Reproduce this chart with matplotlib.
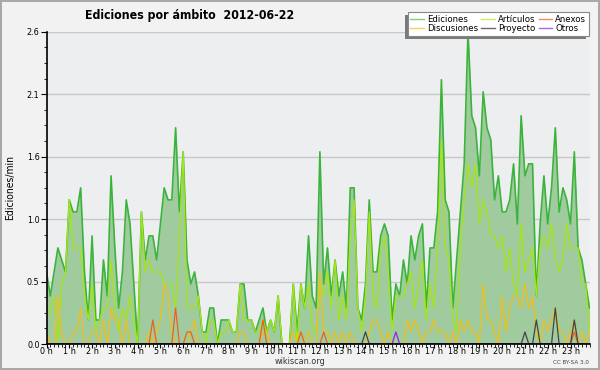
import numpy as np
import matplotlib
matplotlib.use("Agg")
import matplotlib.pyplot as plt
from matplotlib.lines import Line2D
from matplotlib.patches import Rectangle

# edits per minute, one value every 10 minutes (00:00 .. 23:50)
ediciones = [
    0.6, 0.4, 0.6, 0.8, 0.7, 0.6, 1.2, 1.1, 1.1, 1.3, 0.6, 0.2,
    0.9, 0.2, 0.2, 0.7, 0.4, 1.4, 0.8, 0.3, 0.6, 1.2, 1.0, 0.5,
    0.0, 1.1, 0.7, 0.9, 0.9, 0.7, 1.0, 1.3, 1.2, 1.2, 1.8, 1.1,
    1.6, 0.7, 0.5, 0.6, 0.4, 0.1, 0.1, 0.3, 0.3, 0.0, 0.2, 0.2,
    0.2, 0.1, 0.1, 0.5, 0.5, 0.2, 0.2, 0.1, 0.2, 0.3, 0.1, 0.2,
    0.1, 0.4, 0.0, 0.0, 0.0, 0.5, 0.1, 0.5, 0.3, 0.9, 0.4, 0.3,
    1.6, 0.5, 0.8, 0.4, 0.7, 0.4, 0.6, 0.3, 1.3, 1.3, 0.3, 0.2,
    0.5, 1.2, 0.6, 0.6, 0.9, 1.0, 0.9, 0.2, 0.5, 0.4, 0.7, 0.5,
    0.9, 0.7, 0.9, 1.0, 0.3, 0.8, 0.8, 1.1, 2.2, 1.2, 1.1, 0.3,
    0.7, 1.1, 1.5, 2.6, 1.9, 1.8, 1.4, 2.1, 1.8, 1.7, 1.2, 1.4,
    1.1, 1.1, 1.2, 1.5, 1.0, 1.9, 1.4, 1.5, 1.5, 0.4, 1.0, 1.4,
    1.0, 1.3, 1.8, 1.1, 1.3, 1.2, 1.0, 1.6, 0.8, 0.7, 0.5, 0.3,
]
articulos = [
    0.2, 0.3, 0.4, 0.0, 0.5, 0.6, 1.2, 0.8, 0.8, 0.8, 0.4, 0.2,
    0.5, 0.1, 0.2, 0.3, 0.3, 0.7, 0.3, 0.1, 0.3, 0.2, 0.4, 0.2,
    0.0, 1.1, 0.6, 0.7, 0.6, 0.6, 0.6, 0.5, 0.5, 0.5, 0.3, 0.9,
    1.6, 0.3, 0.3, 0.3, 0.4, 0.1, 0.0, 0.2, 0.2, 0.0, 0.1, 0.1,
    0.2, 0.1, 0.1, 0.5, 0.2, 0.2, 0.2, 0.1, 0.1, 0.2, 0.1, 0.2,
    0.1, 0.4, 0.0, 0.0, 0.0, 0.5, 0.0, 0.5, 0.3, 0.5, 0.1, 0.1,
    0.5, 0.4, 0.6, 0.3, 0.7, 0.2, 0.4, 0.2, 0.9, 1.2, 0.3, 0.1,
    0.4, 1.1, 0.4, 0.3, 0.8, 0.9, 0.6, 0.1, 0.4, 0.4, 0.4, 0.5,
    0.6, 0.3, 0.5, 0.7, 0.2, 0.5, 0.3, 0.8, 1.7, 0.8, 0.7, 0.2,
    0.1, 0.8, 1.2, 1.5, 1.3, 1.5, 1.0, 1.2, 1.1, 0.9, 0.9, 0.8,
    0.9, 0.6, 0.8, 0.5, 0.4, 1.0, 0.6, 0.7, 0.8, 0.4, 0.8, 0.9,
    0.8, 1.0, 0.7, 0.6, 0.7, 1.0, 0.8, 0.8, 0.8, 0.5, 0.5, 0.1,
]
discusiones = [
    0.1, 0.0, 0.0, 0.4, 0.1, 0.0, 0.0, 0.1, 0.1, 0.3, 0.0, 0.0,
    0.1, 0.1, 0.0, 0.2, 0.0, 0.3, 0.2, 0.2, 0.0, 0.2, 0.0, 0.0,
    0.0, 0.0, 0.0, 0.1, 0.0, 0.1, 0.2, 0.5, 0.4, 0.1, 0.0, 0.0,
    0.0, 0.0, 0.1, 0.2, 0.0, 0.0, 0.0, 0.0, 0.0, 0.0, 0.0, 0.0,
    0.0, 0.0, 0.0, 0.1, 0.1, 0.0, 0.0, 0.0, 0.0, 0.1, 0.1, 0.0,
    0.0, 0.0, 0.0, 0.0, 0.0, 0.1, 0.0, 0.1, 0.0, 0.1, 0.0, 0.0,
    0.6, 0.1, 0.1, 0.0, 0.1, 0.0, 0.1, 0.0, 0.1, 0.0, 0.0, 0.0,
    0.0, 0.1, 0.2, 0.2, 0.1, 0.0, 0.1, 0.0, 0.0, 0.0, 0.0, 0.2,
    0.1, 0.2, 0.1, 0.0, 0.1, 0.1, 0.2, 0.1, 0.1, 0.1, 0.0, 0.1,
    0.0, 0.2, 0.1, 0.2, 0.1, 0.1, 0.0, 0.5, 0.2, 0.2, 0.1, 0.0,
    0.4, 0.1, 0.3, 0.4, 0.4, 0.3, 0.5, 0.3, 0.4, 0.1, 0.0, 0.2,
    0.1, 0.2, 0.3, 0.1, 0.1, 0.0, 0.1, 0.2, 0.0, 0.1, 0.0, 0.1,
]
anexos = [
    0.0, 0.0, 0.0, 0.0, 0.0, 0.0, 0.0, 0.0, 0.0, 0.0, 0.0, 0.0,
    0.0, 0.0, 0.0, 0.0, 0.0, 0.0, 0.0, 0.0, 0.0, 0.0, 0.0, 0.0,
    0.0, 0.0, 0.0, 0.0, 0.2, 0.0, 0.0, 0.0, 0.0, 0.0, 0.3, 0.0,
    0.0, 0.1, 0.1, 0.0, 0.0, 0.0, 0.0, 0.0, 0.0, 0.0, 0.0, 0.0,
    0.0, 0.0, 0.0, 0.0, 0.0, 0.0, 0.0, 0.0, 0.0, 0.2, 0.0, 0.0,
    0.0, 0.0, 0.0, 0.0, 0.0, 0.0, 0.0, 0.1, 0.0, 0.0, 0.0, 0.0,
    0.0, 0.1, 0.0, 0.0, 0.0, 0.0, 0.0, 0.0, 0.0, 0.0, 0.0, 0.0,
    0.0, 0.0, 0.0, 0.0, 0.0, 0.0, 0.0, 0.0, 0.0, 0.0, 0.0, 0.0,
    0.0, 0.0, 0.0, 0.0, 0.0, 0.0, 0.0, 0.0, 0.0, 0.0, 0.0, 0.0,
    0.0, 0.0, 0.0, 0.0, 0.0, 0.0, 0.0, 0.0, 0.0, 0.0, 0.0, 0.0,
    0.0, 0.0, 0.0, 0.0, 0.0, 0.0, 0.0, 0.0, 0.0, 0.0, 0.0, 0.0,
    0.0, 0.0, 0.0, 0.0, 0.0, 0.0, 0.0, 0.1, 0.0, 0.0, 0.0, 0.0,
]
proyecto = [
    0.0, 0.0, 0.0, 0.0, 0.0, 0.0, 0.0, 0.0, 0.0, 0.0, 0.0, 0.0,
    0.0, 0.0, 0.0, 0.0, 0.0, 0.0, 0.0, 0.0, 0.0, 0.0, 0.0, 0.0,
    0.0, 0.0, 0.0, 0.0, 0.0, 0.0, 0.0, 0.0, 0.0, 0.0, 0.0, 0.0,
    0.0, 0.0, 0.0, 0.0, 0.0, 0.0, 0.0, 0.0, 0.0, 0.0, 0.0, 0.0,
    0.0, 0.0, 0.0, 0.0, 0.0, 0.0, 0.0, 0.0, 0.0, 0.0, 0.0, 0.0,
    0.0, 0.0, 0.0, 0.0, 0.0, 0.0, 0.0, 0.0, 0.0, 0.0, 0.0, 0.0,
    0.0, 0.0, 0.0, 0.0, 0.0, 0.0, 0.0, 0.0, 0.0, 0.0, 0.0, 0.0,
    0.1, 0.0, 0.0, 0.0, 0.0, 0.0, 0.0, 0.0, 0.0, 0.0, 0.0, 0.0,
    0.0, 0.0, 0.0, 0.0, 0.0, 0.0, 0.0, 0.0, 0.0, 0.0, 0.0, 0.0,
    0.0, 0.0, 0.0, 0.0, 0.0, 0.0, 0.0, 0.0, 0.0, 0.0, 0.0, 0.0,
    0.0, 0.0, 0.0, 0.0, 0.0, 0.0, 0.1, 0.0, 0.0, 0.2, 0.0, 0.0,
    0.0, 0.0, 0.3, 0.0, 0.0, 0.0, 0.0, 0.2, 0.0, 0.0, 0.0, 0.0,
]
otros = [
    0.0, 0.0, 0.0, 0.0, 0.0, 0.0, 0.0, 0.0, 0.0, 0.0, 0.0, 0.0,
    0.0, 0.0, 0.0, 0.0, 0.0, 0.0, 0.0, 0.0, 0.0, 0.0, 0.0, 0.0,
    0.0, 0.0, 0.0, 0.0, 0.0, 0.0, 0.0, 0.0, 0.0, 0.0, 0.0, 0.0,
    0.0, 0.0, 0.0, 0.0, 0.0, 0.0, 0.0, 0.0, 0.0, 0.0, 0.0, 0.0,
    0.0, 0.0, 0.0, 0.0, 0.0, 0.0, 0.0, 0.0, 0.0, 0.0, 0.0, 0.0,
    0.0, 0.0, 0.0, 0.0, 0.0, 0.0, 0.0, 0.0, 0.0, 0.0, 0.0, 0.0,
    0.0, 0.0, 0.0, 0.0, 0.0, 0.0, 0.0, 0.0, 0.0, 0.0, 0.0, 0.0,
    0.0, 0.0, 0.0, 0.0, 0.0, 0.0, 0.0, 0.0, 0.1, 0.0, 0.0, 0.0,
    0.0, 0.0, 0.0, 0.0, 0.0, 0.0, 0.0, 0.0, 0.0, 0.0, 0.0, 0.0,
    0.0, 0.0, 0.0, 0.0, 0.0, 0.0, 0.0, 0.0, 0.0, 0.0, 0.0, 0.0,
    0.0, 0.0, 0.0, 0.0, 0.0, 0.0, 0.0, 0.0, 0.0, 0.0, 0.0, 0.0,
    0.0, 0.0, 0.0, 0.0, 0.0, 0.0, 0.0, 0.0, 0.0, 0.0, 0.0, 0.0,
]

y_ticks = [0.0, 0.52, 1.04, 1.56, 2.08, 2.6]
y_labels = ["0.0", "0.5", "1.0", "1.6", "2.1", "2.6"]
hour_labels = [f"{h} h" for h in range(24)]

minutes = np.arange(len(ediciones)) * 10

plt.rcParams["font.family"] = ["DejaVu Sans"]
plt.rcParams["font.stretch"] = "condensed"

W, H = 600, 370
fig = plt.figure(figsize=(6, 3.7), dpi=100, facecolor="#f2f2f2")
fig.patch.set_edgecolor("#a8a8a8")
fig.patch.set_linewidth(1.5)

ax = fig.add_axes([46.5 / W, 1 - 344 / H, 543 / W, 312.3 / H])
ax.set_facecolor("#edeef0")

series = [
    ("Artículos", articulos, "#a6e612", "#c9ee66"),
    ("Discusiones", discusiones, "#f2c01a", "#f5d45c"),
    ("Anexos", anexos, "#ee6020", "#f08a60"),
    ("Proyecto", proyecto, "#444444", "#6a6a6a"),
    ("Otros", otros, "#8a2be2", "#a366ee"),
]

ax.fill_between(minutes, 0, ediciones, color="#9fcb9f", lw=0, zorder=2)
ax.plot(minutes, ediciones, color="#3cb43c", lw=1.2, zorder=3)
for i, (name, vals, col, _) in enumerate(series):
    ax.plot(minutes, vals, color=col, lw=0.9, zorder=4 + i)

ax.set_xlim(0, minutes[-1])
ax.set_ylim(0, 2.6)

ax.set_yticks(y_ticks)
ax.set_yticklabels(y_labels)
ax.set_yticks(np.arange(0, 2.61, 0.13), minor=True)
ax.set_xticks(np.arange(0, 1440, 60))
ax.set_xticklabels(hour_labels)
ax.set_xticks(np.arange(0, 1440, 10), minor=True)

ax.tick_params(axis="both", which="major", labelsize=6.5, length=4, width=0.8,
               color="black", pad=1)
ax.tick_params(axis="x", which="major", length=3, pad=-0.5)
ax.tick_params(axis="both", which="minor", length=2.5, width=0.6)
ax.grid(axis="y", which="major", color="#c8c8c8", lw=1)
ax.set_axisbelow(True)

for s in ["top", "right"]:
    ax.spines[s].set_visible(False)
for s in ["left", "bottom"]:
    ax.spines[s].set_linewidth(1.2)
    ax.spines[s].set_zorder(20)

fig.text(85 / W, 1 - 15 / H, "Ediciones por ámbito  2012-06-22",
         fontsize=8.8, fontweight="bold", ha="left", va="center")
fig.text(10 / W, 1 - 188 / H, "Ediciones/min", rotation=90,
         fontsize=7.5, ha="center", va="center")
fig.text(300 / W, 1 - 362 / H, "wikiscan.org", fontsize=6.5,
         ha="center", va="center", color="#333333")
fig.text(589 / W, 1 - 363 / H, "CC BY-SA 3.0", fontsize=4.5,
         ha="right", va="center", color="#444444")

# legend order: matplotlib fills columns first
order = ["Ediciones", "Discusiones", "Artículos", "Proyecto", "Anexos", "Otros"]
leg_cols = {"Ediciones": "#7fd07f"}
leg_cols.update({name: lc for name, _, _, lc in series})
handles = [Line2D([], [], color=leg_cols[n], lw=1.0) for n in order]
leg = fig.legend(handles, order, ncol=3, loc="upper right",
                 bbox_to_anchor=(589 / W, 1 - 12 / H),
                 fontsize=6.8, frameon=True, fancybox=False,
                 edgecolor="#888888", facecolor="white", framealpha=1,
                 handlelength=1.4, handletextpad=0.35, columnspacing=0.35,
                 borderpad=0.3, labelspacing=0.05, borderaxespad=0)
leg.get_frame().set_linewidth(0.8)
leg.set_zorder(10)

fig.canvas.draw()
bb = leg.get_window_extent().transformed(fig.transFigure.inverted())
shadow = Rectangle((bb.x0 - 3 / W, bb.y0 - 3 / H), bb.width, bb.height,
                   transform=fig.transFigure, facecolor="#7a7a7a",
                   edgecolor="none", zorder=9)
fig.patches.append(shadow)

fig.savefig("out.png", dpi=100, facecolor=fig.get_facecolor(),
            edgecolor=fig.get_edgecolor())
